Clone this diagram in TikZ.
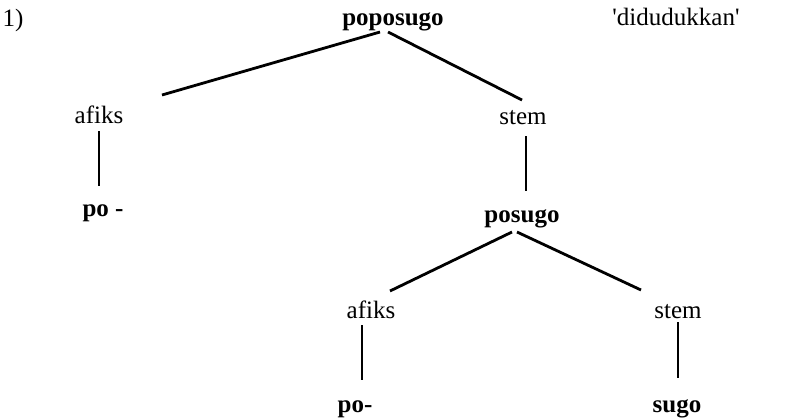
\documentclass[tikz,border=0pt]{standalone}
\usepackage{fontspec}
\setmainfont{Liberation Serif}[Ligatures=TeXOff]
\begin{document}
\begin{tikzpicture}[x=1pt,y=-1pt,
  lbl/.style={inner sep=0pt,anchor=base,font=\fontsize{25}{29}\selectfont},
  blbl/.style={lbl,font=\fontsize{25}{29}\selectfont\bfseries},
  diag/.style={line width=2.8pt},
  vert/.style={line width=1.4pt}]
\useasboundingbox (0,0) rectangle (787,418);
\node[lbl] (num) at (13,26) {1)};
\node[blbl] (top) at (393,25) {poposugo};
\node[lbl] (gloss) at (676,25) {'didudukkan'};
\node[lbl] (af1) at (99,123) {afiks};
\node[lbl] (st1) at (523,124) {stem};
\node[blbl] (po1) at (103,216) {po -};
\node[blbl] (pos) at (522,222) {posugo};
\node[lbl] (af2) at (371,318) {afiks};
\node[lbl] (st2) at (678,318) {stem};
\node[blbl] (po2) at (355,412) {po-};
\node[blbl] (sugo) at (677,412) {sugo};
% connector end points
\path (top.base) ++(-13,7) coordinate (tL);
\path (top.base) ++(-5,7) coordinate (tR);
\path (af1.base) ++(63,-28) coordinate (a1t);
\path (st1.base) ++(-1,-24) coordinate (s1t);
\path (pos.base) ++(-10,10) coordinate (pL);
\path (pos.base) ++(-5,10) coordinate (pR);
\path (af2.base) ++(19,-27) coordinate (a2t);
\path (st2.base) ++(-37,-28) coordinate (s2t);
\path (af1.base) ++(0,8) coordinate (a1b);
\path (po1.base) ++(-4,-30) coordinate (p1t);
\path (st1.base) ++(3,12) coordinate (s1b);
\path (pos.base) ++(4,-31) coordinate (pst);
\path (af2.base) ++(-9,7) coordinate (a2b);
\path (po2.base) ++(7,-32) coordinate (p2t);
\path (st2.base) ++(0,4) coordinate (s2b);
\path (sugo.base) ++(1,-34) coordinate (sgt);
\draw[diag] (tL) -- (a1t);
\draw[diag] (tR) -- (s1t);
\draw[diag] (pL) -- (a2t);
\draw[diag] (pR) -- (s2t);
\draw[vert] (a1b) -- (p1t);
\draw[vert] (s1b) -- (pst);
\draw[vert] (a2b) -- (p2t);
\draw[vert] (s2b) -- (sgt);
\end{tikzpicture}
\end{document}
